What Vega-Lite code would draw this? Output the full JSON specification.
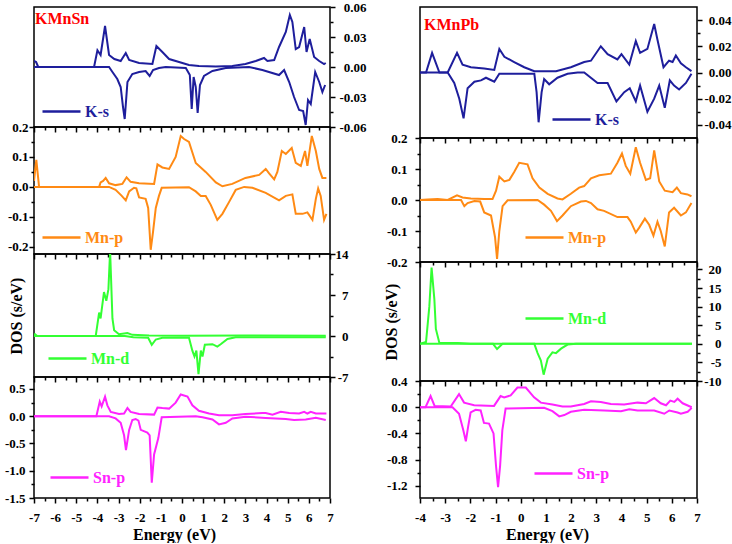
{
  "$schema": "https://vega.github.io/schema/vega-lite/v6.json",
  "background": "white",
  "padding": {"left": 3, "top": 0, "right": 0, "bottom": 0},
  "config": {
    "view": {"stroke": "#000000", "strokeWidth": 1.5},
    "axis": {
      "labelFont": "Liberation Serif", "labelFontWeight": "bold", "labelFontSize": 13, "labelColor": "#000000",
      "titleFont": "Liberation Serif", "titleFontWeight": "bold", "titleFontSize": 16, "titleColor": "#000000",
      "tickColor": "#000000", "tickWidth": 1.5, "domain": false, "grid": false,
      "labelOverlap": false, "labelFlush": false
    },
    "legend": {
      "title": null, "orient": "none", "symbolType": "stroke", "symbolSize": 1444, "symbolStrokeWidth": 2.5,
      "labelFont": "Liberation Serif", "labelFontWeight": "bold", "labelFontSize": 16, "labelOffset": 3, "padding": 0
    }
  },
  "datasets": {
    "SnKu": [{"e":-7,"v":0.006},{"e":-6.9,"v":0.005},{"e":-6.8,"v":0},{"e":-4.16,"v":0},{"e":-4.0,"v":0.0167},{"e":-3.85,"v":0.012},{"e":-3.64,"v":0.041},{"e":-3.45,"v":0.012},{"e":-3.2,"v":0.008},{"e":-2.9,"v":0.006},{"e":-2.66,"v":0.014},{"e":-2.5,"v":0.007},{"e":-2.03,"v":0.004},{"e":-1.4,"v":0.003},{"e":-1.21,"v":0.021},{"e":-0.93,"v":0.015},{"e":-0.61,"v":0.008},{"e":-0.14,"v":0.005},{"e":0.33,"v":0.002},{"e":0.8,"v":0.001},{"e":1.6,"v":0.0005},{"e":2.38,"v":0.001},{"e":3.0,"v":0.003},{"e":3.49,"v":0.006},{"e":3.88,"v":0.009},{"e":4.04,"v":0.006},{"e":4.36,"v":0.007},{"e":4.59,"v":0.02},{"e":4.91,"v":0.035},{"e":5.1,"v":0.052},{"e":5.22,"v":0.045},{"e":5.38,"v":0.018},{"e":5.54,"v":0.02},{"e":5.78,"v":0.04},{"e":5.89,"v":0.015},{"e":6.04,"v":0.028},{"e":6.25,"v":0.01},{"e":6.49,"v":0.006},{"e":6.72,"v":0.003},{"e":6.8,"v":0.004}],
    "SnKd": [{"e":-7,"v":0},{"e":-3.45,"v":0},{"e":-3.29,"v":-0.005},{"e":-3.06,"v":-0.012},{"e":-2.9,"v":-0.02},{"e":-2.79,"v":-0.04},{"e":-2.71,"v":-0.052},{"e":-2.58,"v":-0.015},{"e":-2.35,"v":-0.007},{"e":-2.03,"v":-0.005},{"e":-1.72,"v":-0.004},{"e":-1.53,"v":-0.009},{"e":-1.37,"v":-0.003},{"e":-1.09,"v":-0.001},{"e":-0.77,"v":0},{"e":0.18,"v":-0.001},{"e":0.37,"v":-0.008},{"e":0.46,"v":-0.042},{"e":0.55,"v":-0.01},{"e":0.65,"v":-0.02},{"e":0.74,"v":-0.046},{"e":0.85,"v":-0.018},{"e":1.04,"v":-0.009},{"e":1.44,"v":-0.004},{"e":2.07,"v":-0.001},{"e":3.17,"v":0},{"e":3.8,"v":-0.003},{"e":4.59,"v":-0.008},{"e":4.83,"v":-0.003},{"e":5.07,"v":-0.015},{"e":5.3,"v":-0.03},{"e":5.54,"v":-0.043},{"e":5.73,"v":-0.044},{"e":5.85,"v":-0.058},{"e":5.96,"v":-0.033},{"e":6.09,"v":-0.037},{"e":6.3,"v":-0.005},{"e":6.49,"v":-0.015},{"e":6.64,"v":-0.025},{"e":6.77,"v":-0.018}],
    "SnPu": [{"e":-7,"v":0.02},{"e":-6.89,"v":0.09},{"e":-6.76,"v":0},{"e":-3.92,"v":0},{"e":-3.85,"v":0.015},{"e":-3.73,"v":0.02},{"e":-3.61,"v":0.03},{"e":-3.45,"v":0.012},{"e":-3.14,"v":0.006},{"e":-2.82,"v":0.01},{"e":-2.62,"v":0.032},{"e":-2.43,"v":0.017},{"e":-2.03,"v":0.012},{"e":-1.32,"v":0.01},{"e":-1.16,"v":0.075},{"e":-0.93,"v":0.065},{"e":-0.61,"v":0.06},{"e":-0.3,"v":0.1},{"e":-0.06,"v":0.17},{"e":0.1,"v":0.16},{"e":0.33,"v":0.15},{"e":0.65,"v":0.08},{"e":1.12,"v":0.05},{"e":1.6,"v":0.015},{"e":1.91,"v":0.002},{"e":2.38,"v":0.01},{"e":3.0,"v":0.03},{"e":3.65,"v":0.04},{"e":3.96,"v":0.06},{"e":4.12,"v":0.045},{"e":4.36,"v":0.025},{"e":4.51,"v":0.05},{"e":4.72,"v":0.12},{"e":4.91,"v":0.11},{"e":5.19,"v":0.13},{"e":5.38,"v":0.08},{"e":5.62,"v":0.07},{"e":5.82,"v":0.12},{"e":5.93,"v":0.07},{"e":6.14,"v":0.17},{"e":6.33,"v":0.12},{"e":6.49,"v":0.06},{"e":6.64,"v":0.03},{"e":6.83,"v":0.03}],
    "SnPd": [{"e":-7,"v":0},{"e":-3.45,"v":0},{"e":-3.14,"v":-0.01},{"e":-2.85,"v":-0.03},{"e":-2.66,"v":-0.045},{"e":-2.5,"v":-0.015},{"e":-2.27,"v":-0.003},{"e":-2.16,"v":-0.005},{"e":-2.03,"v":-0.035},{"e":-1.72,"v":-0.04},{"e":-1.6,"v":-0.07},{"e":-1.48,"v":-0.21},{"e":-1.37,"v":-0.15},{"e":-1.24,"v":-0.07},{"e":-1.09,"v":-0.03},{"e":-0.96,"v":-0.003},{"e":0.33,"v":-0.001},{"e":0.65,"v":-0.015},{"e":0.89,"v":-0.03},{"e":1.12,"v":-0.03},{"e":1.36,"v":-0.06},{"e":1.67,"v":-0.11},{"e":1.91,"v":-0.09},{"e":2.23,"v":-0.05},{"e":2.54,"v":-0.01},{"e":2.94,"v":0},{"e":3.33,"v":-0.003},{"e":3.96,"v":-0.02},{"e":4.59,"v":-0.045},{"e":4.91,"v":-0.03},{"e":5.22,"v":-0.025},{"e":5.38,"v":-0.09},{"e":5.7,"v":-0.09},{"e":5.93,"v":-0.085},{"e":6.17,"v":-0.11},{"e":6.33,"v":-0.04},{"e":6.44,"v":-0.005},{"e":6.56,"v":-0.03},{"e":6.72,"v":-0.11},{"e":6.83,"v":-0.09}],
    "SnDu": [{"e":-7,"v":0},{"e":-6.95,"v":0.3},{"e":-6.85,"v":0},{"e":-4.08,"v":0},{"e":-3.92,"v":4},{"e":-3.85,"v":3},{"e":-3.69,"v":7.5},{"e":-3.58,"v":6},{"e":-3.48,"v":8},{"e":-3.4,"v":14.5},{"e":-3.29,"v":3},{"e":-3.21,"v":1},{"e":-2.98,"v":0.3},{"e":-2.58,"v":0.5},{"e":-2.35,"v":0.2},{"e":-1.56,"v":0.1},{"e":0,"v":0.05},{"e":3,"v":0.1},{"e":6.8,"v":0.05}],
    "SnDd": [{"e":-7,"v":0},{"e":-2.7,"v":0},{"e":-2.3,"v":-0.2},{"e":-1.6,"v":-0.3},{"e":-1.43,"v":-1.5},{"e":-1.24,"v":-0.6},{"e":-0.93,"v":-0.3},{"e":0.33,"v":-0.3},{"e":0.49,"v":-2.5},{"e":0.59,"v":-3.5},{"e":0.68,"v":-2.5},{"e":0.78,"v":-6.5},{"e":0.89,"v":-2.5},{"e":0.97,"v":-3.5},{"e":1.08,"v":-1.5},{"e":1.44,"v":-1.4},{"e":1.67,"v":-1.8},{"e":1.83,"v":-1.4},{"e":2.15,"v":-0.5},{"e":2.54,"v":-0.2},{"e":6.8,"v":-0.2}],
    "SnSu": [{"e":-7,"v":0},{"e":-4.05,"v":0},{"e":-3.89,"v":0.27},{"e":-3.8,"v":0.18},{"e":-3.64,"v":0.36},{"e":-3.53,"v":0.2},{"e":-3.37,"v":0.08},{"e":-2.98,"v":0.04},{"e":-2.74,"v":0.05},{"e":-2.58,"v":0.15},{"e":-2.43,"v":0.08},{"e":-2.03,"v":0.04},{"e":-1.32,"v":0.03},{"e":-1.16,"v":0.16},{"e":-0.93,"v":0.15},{"e":-0.61,"v":0.14},{"e":-0.3,"v":0.25},{"e":-0.06,"v":0.4},{"e":0.26,"v":0.36},{"e":0.49,"v":0.2},{"e":0.8,"v":0.1},{"e":1.28,"v":0.05},{"e":1.75,"v":0.02},{"e":2.38,"v":0.02},{"e":3.0,"v":0.04},{"e":3.8,"v":0.06},{"e":3.96,"v":0.06},{"e":4.28,"v":0.03},{"e":4.67,"v":0.08},{"e":5.07,"v":0.06},{"e":5.54,"v":0.05},{"e":5.78,"v":0.08},{"e":5.93,"v":0.05},{"e":6.09,"v":0.08},{"e":6.33,"v":0.05},{"e":6.83,"v":0.05}],
    "SnSd": [{"e":-7,"v":0},{"e":-3.45,"v":0},{"e":-3.14,"v":-0.04},{"e":-2.9,"v":-0.12},{"e":-2.74,"v":-0.35},{"e":-2.65,"v":-0.62},{"e":-2.5,"v":-0.25},{"e":-2.35,"v":-0.07},{"e":-2.19,"v":-0.05},{"e":-2.06,"v":-0.08},{"e":-1.95,"v":-0.25},{"e":-1.64,"v":-0.3},{"e":-1.53,"v":-0.35},{"e":-1.43,"v":-1.22},{"e":-1.32,"v":-0.7},{"e":-1.12,"v":-0.4},{"e":-0.96,"v":-0.02},{"e":0.65,"v":0},{"e":0.97,"v":-0.02},{"e":1.44,"v":-0.06},{"e":1.75,"v":-0.15},{"e":2.07,"v":-0.12},{"e":2.38,"v":-0.04},{"e":3.0,"v":-0.01},{"e":3.96,"v":-0.03},{"e":4.91,"v":-0.05},{"e":5.3,"v":-0.07},{"e":5.85,"v":-0.06},{"e":6.33,"v":-0.03},{"e":6.8,"v":-0.07}],
    "PbKu": [{"e":-4,"v":0},{"e":-3.76,"v":0},{"e":-3.52,"v":0.015},{"e":-3.23,"v":0},{"e":-2.9,"v":0},{"e":-2.53,"v":0.015},{"e":-2.31,"v":0.006},{"e":-1.98,"v":0.004},{"e":-1.45,"v":0.003},{"e":-1.05,"v":0.002},{"e":-0.85,"v":0.018},{"e":-0.65,"v":0.012},{"e":-0.26,"v":0.008},{"e":0.14,"v":0.004},{"e":0.54,"v":0.001},{"e":1.4,"v":0.001},{"e":1.99,"v":0.004},{"e":2.52,"v":0.008},{"e":2.79,"v":0.009},{"e":3.18,"v":0.02},{"e":3.45,"v":0.014},{"e":3.84,"v":0.01},{"e":4.0,"v":0.014},{"e":4.31,"v":0.006},{"e":4.57,"v":0.024},{"e":4.74,"v":0.015},{"e":5.03,"v":0.018},{"e":5.3,"v":0.037},{"e":5.43,"v":0.025},{"e":5.67,"v":0.004},{"e":5.89,"v":0.009},{"e":6.03,"v":0.008},{"e":6.16,"v":0.013},{"e":6.36,"v":0.007},{"e":6.56,"v":0.004},{"e":6.78,"v":0.001}],
    "PbKd": [{"e":-4,"v":0},{"e":-2.9,"v":0},{"e":-2.64,"v":-0.008},{"e":-2.44,"v":-0.02},{"e":-2.27,"v":-0.035},{"e":-2.11,"v":-0.012},{"e":-1.84,"v":-0.007},{"e":-1.58,"v":-0.006},{"e":-1.38,"v":-0.004},{"e":-1.05,"v":-0.007},{"e":-0.85,"v":-0.001},{"e":0.54,"v":-0.001},{"e":0.63,"v":-0.015},{"e":0.71,"v":-0.038},{"e":0.83,"v":-0.015},{"e":0.93,"v":-0.005},{"e":1.13,"v":-0.009},{"e":1.46,"v":-0.004},{"e":1.86,"v":-0.001},{"e":2.26,"v":0},{"e":2.52,"v":0},{"e":3.05,"v":-0.008},{"e":3.45,"v":-0.008},{"e":3.8,"v":-0.022},{"e":4.11,"v":-0.015},{"e":4.33,"v":-0.012},{"e":4.57,"v":-0.022},{"e":4.74,"v":-0.01},{"e":5.03,"v":-0.03},{"e":5.3,"v":-0.02},{"e":5.5,"v":-0.01},{"e":5.72,"v":-0.027},{"e":5.92,"v":-0.006},{"e":6.09,"v":-0.01},{"e":6.29,"v":-0.013},{"e":6.56,"v":-0.008},{"e":6.78,"v":-0.001}],
    "PbPu": [{"e":-4,"v":0},{"e":-3.7,"v":0.002},{"e":-3.3,"v":0.003},{"e":-2.9,"v":0},{"e":-2.53,"v":0.015},{"e":-2.31,"v":0.008},{"e":-1.98,"v":0.005},{"e":-1.45,"v":0.003},{"e":-1.12,"v":0.003},{"e":-0.98,"v":0.03},{"e":-0.85,"v":0.075},{"e":-0.65,"v":0.06},{"e":-0.45,"v":0.065},{"e":-0.26,"v":0.09},{"e":-0.06,"v":0.12},{"e":0.27,"v":0.115},{"e":0.47,"v":0.07},{"e":0.74,"v":0.04},{"e":1.07,"v":0.02},{"e":1.46,"v":0.005},{"e":1.66,"v":0.002},{"e":1.99,"v":0.02},{"e":2.32,"v":0.04},{"e":2.52,"v":0.045},{"e":2.79,"v":0.07},{"e":3.12,"v":0.08},{"e":3.58,"v":0.085},{"e":3.84,"v":0.12},{"e":4.02,"v":0.15},{"e":4.17,"v":0.11},{"e":4.35,"v":0.085},{"e":4.57,"v":0.17},{"e":4.74,"v":0.12},{"e":4.97,"v":0.065},{"e":5.14,"v":0.07},{"e":5.3,"v":0.16},{"e":5.5,"v":0.06},{"e":5.72,"v":0.03},{"e":6.03,"v":0.025},{"e":6.2,"v":0.04},{"e":6.36,"v":0.022},{"e":6.62,"v":0.018},{"e":6.78,"v":0.012}],
    "PbPd": [{"e":-4,"v":0},{"e":-2.37,"v":0},{"e":-2.24,"v":-0.02},{"e":-2.11,"v":-0.01},{"e":-1.84,"v":-0.003},{"e":-1.61,"v":-0.005},{"e":-1.45,"v":-0.04},{"e":-1.18,"v":-0.05},{"e":-1.02,"v":-0.12},{"e":-0.94,"v":-0.19},{"e":-0.85,"v":-0.1},{"e":-0.72,"v":-0.02},{"e":-0.52,"v":-0.001},{"e":0.67,"v":0},{"e":0.93,"v":-0.015},{"e":1.2,"v":-0.035},{"e":1.44,"v":-0.068},{"e":1.66,"v":-0.05},{"e":1.99,"v":-0.02},{"e":2.39,"v":-0.005},{"e":2.59,"v":-0.003},{"e":2.79,"v":-0.01},{"e":3.05,"v":-0.03},{"e":3.31,"v":-0.035},{"e":3.84,"v":-0.055},{"e":4.24,"v":-0.055},{"e":4.37,"v":-0.07},{"e":4.57,"v":-0.105},{"e":4.7,"v":-0.09},{"e":4.93,"v":-0.06},{"e":5.1,"v":-0.08},{"e":5.27,"v":-0.115},{"e":5.43,"v":-0.07},{"e":5.56,"v":-0.1},{"e":5.72,"v":-0.15},{"e":5.89,"v":-0.04},{"e":6.09,"v":-0.025},{"e":6.36,"v":-0.05},{"e":6.56,"v":-0.04},{"e":6.78,"v":-0.01}],
    "PbDu": [{"e":-4,"v":0},{"e":-3.76,"v":0.5},{"e":-3.63,"v":10},{"e":-3.54,"v":20.5},{"e":-3.43,"v":12},{"e":-3.37,"v":4},{"e":-3.23,"v":0.2},{"e":-2.5,"v":0.2},{"e":-2,"v":0},{"e":6.8,"v":0}],
    "PbDd": [{"e":-4,"v":0},{"e":-1.1,"v":0},{"e":-0.94,"v":-1.4},{"e":-0.72,"v":0},{"e":0.54,"v":0},{"e":0.67,"v":-2.5},{"e":0.8,"v":-4.5},{"e":0.91,"v":-8.3},{"e":1.07,"v":-4},{"e":1.26,"v":-2.3},{"e":1.4,"v":-2.5},{"e":1.6,"v":-1.3},{"e":1.86,"v":-0.2},{"e":2.2,"v":0},{"e":6.8,"v":0}],
    "PbSu": [{"e":-4,"v":0},{"e":-3.78,"v":0},{"e":-3.58,"v":0.17},{"e":-3.42,"v":0.02},{"e":-2.78,"v":0.01},{"e":-2.45,"v":0.2},{"e":-2.25,"v":0.07},{"e":-1.85,"v":0.03},{"e":-1.06,"v":0.02},{"e":-0.8,"v":0.17},{"e":-0.66,"v":0.15},{"e":-0.4,"v":0.18},{"e":-0.13,"v":0.3},{"e":0.2,"v":0.3},{"e":0.53,"v":0.15},{"e":0.8,"v":0.07},{"e":1.26,"v":0.04},{"e":1.66,"v":0.01},{"e":1.99,"v":0.01},{"e":2.52,"v":0.05},{"e":2.79,"v":0.09},{"e":3.18,"v":0.08},{"e":3.58,"v":0.05},{"e":4.11,"v":0.04},{"e":4.64,"v":0.07},{"e":4.97,"v":0.06},{"e":5.3,"v":0.14},{"e":5.56,"v":0.06},{"e":5.77,"v":0.03},{"e":5.94,"v":0.1},{"e":6.1,"v":0.08},{"e":6.23,"v":0.13},{"e":6.43,"v":0.06},{"e":6.79,"v":0.0}],
    "PbSd": [{"e":-4,"v":0},{"e":-2.71,"v":0},{"e":-2.45,"v":-0.1},{"e":-2.28,"v":-0.35},{"e":-2.18,"v":-0.52},{"e":-2.09,"v":-0.3},{"e":-1.99,"v":-0.08},{"e":-1.79,"v":-0.04},{"e":-1.59,"v":-0.05},{"e":-1.46,"v":-0.24},{"e":-1.26,"v":-0.25},{"e":-1.08,"v":-0.4},{"e":-0.98,"v":-0.9},{"e":-0.9,"v":-1.22},{"e":-0.82,"v":-0.9},{"e":-0.73,"v":-0.35},{"e":-0.6,"v":-0.02},{"e":0.93,"v":-0.01},{"e":1.26,"v":-0.06},{"e":1.53,"v":-0.14},{"e":1.73,"v":-0.12},{"e":1.99,"v":-0.07},{"e":2.52,"v":-0.04},{"e":3.32,"v":-0.05},{"e":3.98,"v":-0.06},{"e":4.31,"v":-0.03},{"e":4.64,"v":-0.05},{"e":5.3,"v":-0.05},{"e":5.7,"v":-0.1},{"e":5.9,"v":-0.05},{"e":6.23,"v":-0.08},{"e":6.36,"v":-0.1},{"e":6.63,"v":-0.07},{"e":6.79,"v":-0.01}]
  },
  "hconcat": [
    {
      "spacing": 0,
      "bounds": "flush",
      "resolve": {"scale": {"color": "independent"}, "legend": {"color": "independent"}},
      "vconcat": [
        {
          "width": 296, "height": 120,
          "title": {"text": "KMnSn", "anchor": "start", "frame": "group", "offset": -26, "dx": 1, "color": "#FF0000", "font": "Liberation Serif", "fontSize": 16, "fontWeight": "bold"},
          "layer": [
            {"data": {"name": "SnKu"}, "mark": {"type": "line", "strokeWidth": 2, "clip": true},
             "encoding": {
               "x": {"field": "e", "type": "quantitative", "scale": {"domain": [-7, 7], "nice": false, "zero": false}, "axis": {"orient": "bottom", "values": [-7,-6,-5,-4,-3,-2,-1,0,1,2,3,4,5,6,7], "tickSize": 5, "labels": false, "title": null}},
               "y": {"field": "v", "type": "quantitative", "scale": {"domain": [-0.06, 0.06], "nice": false, "zero": false}, "axis": {"orient": "right", "values": [-0.06,-0.03,0,0.03,0.06], "tickSize": 5, "labelAlign": "right", "labelPadding": 31, "labelExpr": "replace(format(datum.value,'.2f'),'\u2212','-')", "title": null}},
               "color": {"datum": "K-s", "scale": {"range": ["#1E1E9C"]}, "legend": {"legendX": 7, "legendY": 84, "labelColor": "#1E1E9C"}}
             }},
            {"data": {"name": "SnKd"}, "mark": {"type": "line", "strokeWidth": 2, "clip": true},
             "encoding": {
               "x": {"field": "e", "type": "quantitative", "axis": {"orient": "bottom", "values": [-6.5,-5.5,-4.5,-3.5,-2.5,-1.5,-0.5,0.5,1.5,2.5,3.5,4.5,5.5,6.5], "tickSize": 3, "labels": false, "title": null}},
               "y": {"field": "v", "type": "quantitative", "axis": {"orient": "right", "values": [-0.045,-0.015,0.015,0.045], "tickSize": 3, "labels": false, "title": null}},
               "color": {"datum": "K-s"}
             }}
          ],
          "resolve": {"axis": {"x": "independent", "y": "independent"}}
        },
        {
          "width": 296, "height": 127,
          "layer": [
            {"data": {"name": "SnPu"}, "mark": {"type": "line", "strokeWidth": 2, "clip": true},
             "encoding": {
               "x": {"field": "e", "type": "quantitative", "scale": {"domain": [-7, 7], "nice": false, "zero": false}, "axis": {"orient": "bottom", "values": [-7,-6,-5,-4,-3,-2,-1,0,1,2,3,4,5,6,7], "tickSize": 5, "labels": false, "title": null}},
               "y": {"field": "v", "type": "quantitative", "scale": {"domain": [-0.224, 0.2], "nice": false, "zero": false}, "axis": {"orient": "left", "values": [-0.2,-0.1,0,0.1,0.2], "tickSize": 5, "labelPadding": 1, "labelExpr": "replace(format(datum.value,'.1f'),'\u2212','-')", "title": null}},
               "color": {"datum": "Mn-p", "scale": {"range": ["#FF8A14"]}, "legend": {"legendX": 7, "legendY": 90, "labelColor": "#FF8A14"}}
             }},
            {"data": {"name": "SnPd"}, "mark": {"type": "line", "strokeWidth": 2, "clip": true},
             "encoding": {
               "x": {"field": "e", "type": "quantitative", "axis": {"orient": "bottom", "values": [-6.5,-5.5,-4.5,-3.5,-2.5,-1.5,-0.5,0.5,1.5,2.5,3.5,4.5,5.5,6.5], "tickSize": 3, "labels": false, "title": null}},
               "y": {"field": "v", "type": "quantitative", "axis": {"orient": "left", "values": [-0.15,-0.05,0.05,0.15], "tickSize": 3, "labels": false, "title": null}},
               "color": {"datum": "Mn-p"}
             }}
          ],
          "resolve": {"axis": {"x": "independent", "y": "independent"}}
        },
        {
          "width": 296, "height": 123,
          "layer": [
            {"data": {"name": "SnDu"}, "mark": {"type": "line", "strokeWidth": 2, "clip": true},
             "encoding": {
               "x": {"field": "e", "type": "quantitative", "scale": {"domain": [-7, 7], "nice": false, "zero": false}, "axis": {"orient": "bottom", "values": [-7,-6,-5,-4,-3,-2,-1,0,1,2,3,4,5,6,7], "tickSize": 5, "labels": false, "title": null}},
               "y": {"field": "v", "type": "quantitative", "scale": {"domain": [-7, 14], "nice": false, "zero": false}, "axis": {"orient": "right", "values": [-7,0,7,14], "tickSize": 5, "labelAlign": "right", "labelPadding": 13, "labelExpr": "replace(format(datum.value,'d'),'\u2212','-')", "title": null}},
               "color": {"datum": "Mn-d", "scale": {"range": ["#33FF33"]}, "legend": {"legendX": 13, "legendY": 84, "labelColor": "#33FF33"}}
             }},
            {"data": {"name": "SnDd"}, "mark": {"type": "line", "strokeWidth": 2, "clip": true},
             "encoding": {
               "x": {"field": "e", "type": "quantitative", "axis": {"orient": "bottom", "values": [-6.5,-5.5,-4.5,-3.5,-2.5,-1.5,-0.5,0.5,1.5,2.5,3.5,4.5,5.5,6.5], "tickSize": 3, "labels": false, "title": null}},
               "y": {"field": "v", "type": "quantitative", "axis": {"orient": "right", "values": [-3.5,3.5,10.5], "tickSize": 3, "labels": false, "title": null}},
               "color": {"datum": "Mn-d"}
             }},
            {"data": {"name": "SnDu"}, "mark": {"type": "line", "opacity": 0},
             "encoding": {
               "x": {"field": "e", "type": "quantitative", "axis": null},
               "y": {"field": "v", "type": "quantitative", "axis": {"orient": "left", "labels": false, "ticks": false, "title": "DOS (s/eV)", "titlePadding": 10}}
             }}
          ],
          "resolve": {"axis": {"x": "independent", "y": "independent"}}
        },
        {
          "width": 296, "height": 121,
          "layer": [
            {"data": {"name": "SnSu"}, "mark": {"type": "line", "strokeWidth": 2, "clip": true},
             "encoding": {
               "x": {"field": "e", "type": "quantitative", "scale": {"domain": [-7, 7], "nice": false, "zero": false}, "axis": {"orient": "bottom", "values": [-7,-6,-5,-4,-3,-2,-1,0,1,2,3,4,5,6,7], "tickSize": 5, "labelPadding": 8, "labelExpr": "replace(format(datum.value,'d'),'\u2212','-')", "title": "Energy (eV)", "titlePadding": 2, "titleX": 140}},
               "y": {"field": "v", "type": "quantitative", "scale": {"domain": [-1.5, 0.72], "nice": false, "zero": false}, "axis": {"orient": "left", "values": [-1.5,-1,-0.5,0,0.5], "tickSize": 5, "labelPadding": 4, "labelExpr": "replace(format(datum.value,'.1f'),'\u2212','-')", "title": null}},
               "color": {"datum": "Sn-p", "scale": {"range": ["#FF22FF"]}, "legend": {"legendX": 15, "legendY": 80, "labelColor": "#FF22FF"}}
             }},
            {"data": {"name": "SnSd"}, "mark": {"type": "line", "strokeWidth": 2, "clip": true},
             "encoding": {
               "x": {"field": "e", "type": "quantitative", "axis": {"orient": "bottom", "values": [-6.5,-5.5,-4.5,-3.5,-2.5,-1.5,-0.5,0.5,1.5,2.5,3.5,4.5,5.5,6.5], "tickSize": 3, "labels": false, "title": null}},
               "y": {"field": "v", "type": "quantitative", "axis": {"orient": "left", "values": [-1.25,-0.75,-0.25,0.25], "tickSize": 3, "labels": false, "title": null}},
               "color": {"datum": "Sn-p"}
             }}
          ],
          "resolve": {"axis": {"x": "independent", "y": "independent"}}
        }
      ]
    },
    {
      "spacing": 0,
      "bounds": "flush",
      "resolve": {"scale": {"color": "independent"}, "legend": {"color": "independent"}},
      "vconcat": [
        {
          "width": 277, "height": 131,
          "title": {"text": "KMnPb", "anchor": "start", "frame": "group", "offset": -26, "dx": 4, "color": "#FF0000", "font": "Liberation Serif", "fontSize": 16, "fontWeight": "bold"},
          "layer": [
            {"data": {"name": "PbKu"}, "mark": {"type": "line", "strokeWidth": 2, "clip": true},
             "encoding": {
               "x": {"field": "e", "type": "quantitative", "scale": {"domain": [-4, 7], "nice": false, "zero": false}, "axis": {"orient": "bottom", "values": [-4,-3,-2,-1,0,1,2,3,4,5,6,7], "tickSize": 5, "labels": false, "title": null}},
               "y": {"field": "v", "type": "quantitative", "scale": {"domain": [-0.05, 0.05], "nice": false, "zero": false}, "axis": {"orient": "right", "values": [-0.04,-0.02,0,0.02,0.04], "tickSize": 5, "labelAlign": "right", "labelPadding": 29, "labelExpr": "replace(format(datum.value,'.2f'),'\u2212','-')", "title": null}},
               "color": {"datum": "K-s", "scale": {"range": ["#1E1E9C"]}, "legend": {"legendX": 131, "legendY": 92, "labelColor": "#1E1E9C"}}
             }},
            {"data": {"name": "PbKd"}, "mark": {"type": "line", "strokeWidth": 2, "clip": true},
             "encoding": {
               "x": {"field": "e", "type": "quantitative", "axis": {"orient": "bottom", "values": [-3.5,-2.5,-1.5,-0.5,0.5,1.5,2.5,3.5,4.5,5.5,6.5], "tickSize": 3, "labels": false, "title": null}},
               "y": {"field": "v", "type": "quantitative", "axis": {"orient": "right", "values": [-0.03,-0.01,0.01,0.03], "tickSize": 3, "labels": false, "title": null}},
               "color": {"datum": "K-s"}
             }}
          ],
          "resolve": {"axis": {"x": "independent", "y": "independent"}}
        },
        {
          "width": 277, "height": 124,
          "layer": [
            {"data": {"name": "PbPu"}, "mark": {"type": "line", "strokeWidth": 2, "clip": true},
             "encoding": {
               "x": {"field": "e", "type": "quantitative", "scale": {"domain": [-4, 7], "nice": false, "zero": false}, "axis": {"orient": "bottom", "values": [-4,-3,-2,-1,0,1,2,3,4,5,6,7], "tickSize": 5, "labels": false, "title": null}},
               "y": {"field": "v", "type": "quantitative", "scale": {"domain": [-0.2, 0.2], "nice": false, "zero": false}, "axis": {"orient": "left", "values": [-0.2,-0.1,0,0.1,0.2], "tickSize": 5, "labelPadding": 8, "labelExpr": "replace(format(datum.value,'.1f'),'\u2212','-')", "title": null}},
               "color": {"datum": "Mn-p", "scale": {"range": ["#FF8A14"]}, "legend": {"legendX": 104, "legendY": 79, "labelColor": "#FF8A14"}}
             }},
            {"data": {"name": "PbPd"}, "mark": {"type": "line", "strokeWidth": 2, "clip": true},
             "encoding": {
               "x": {"field": "e", "type": "quantitative", "axis": {"orient": "bottom", "values": [-3.5,-2.5,-1.5,-0.5,0.5,1.5,2.5,3.5,4.5,5.5,6.5], "tickSize": 3, "labels": false, "title": null}},
               "y": {"field": "v", "type": "quantitative", "axis": {"orient": "left", "values": [-0.15,-0.05,0.05,0.15], "tickSize": 3, "labels": false, "title": null}},
               "color": {"datum": "Mn-p"}
             }}
          ],
          "resolve": {"axis": {"x": "independent", "y": "independent"}}
        },
        {
          "width": 277, "height": 119,
          "layer": [
            {"data": {"name": "PbDu"}, "mark": {"type": "line", "strokeWidth": 2, "clip": true},
             "encoding": {
               "x": {"field": "e", "type": "quantitative", "scale": {"domain": [-4, 7], "nice": false, "zero": false}, "axis": {"orient": "bottom", "values": [-4,-3,-2,-1,0,1,2,3,4,5,6,7], "tickSize": 5, "labels": false, "title": null}},
               "y": {"field": "v", "type": "quantitative", "scale": {"domain": [-10, 22], "nice": false, "zero": false}, "axis": {"orient": "right", "values": [-10,-5,0,5,10,15,20], "tickSize": 5, "labelAlign": "right", "labelPadding": 19, "labelExpr": "replace(format(datum.value,'d'),'\u2212','-')", "title": null}},
               "color": {"datum": "Mn-d", "scale": {"range": ["#33FF33"]}, "legend": {"legendX": 104, "legendY": 36, "labelColor": "#33FF33"}}
             }},
            {"data": {"name": "PbDd"}, "mark": {"type": "line", "strokeWidth": 2, "clip": true},
             "encoding": {
               "x": {"field": "e", "type": "quantitative", "axis": {"orient": "bottom", "values": [-3.5,-2.5,-1.5,-0.5,0.5,1.5,2.5,3.5,4.5,5.5,6.5], "tickSize": 3, "labels": false, "title": null}},
               "y": {"field": "v", "type": "quantitative", "axis": {"orient": "right", "values": [-7.5,-2.5,2.5,7.5,12.5,17.5], "tickSize": 3, "labels": false, "title": null}},
               "color": {"datum": "Mn-d"}
             }},
            {"data": {"name": "PbDu"}, "mark": {"type": "line", "opacity": 0},
             "encoding": {
               "x": {"field": "e", "type": "quantitative", "axis": null},
               "y": {"field": "v", "type": "quantitative", "axis": {"orient": "left", "labels": false, "ticks": false, "title": "DOS (s/eV)", "titlePadding": 21}}
             }}
          ],
          "resolve": {"axis": {"x": "independent", "y": "independent"}}
        },
        {
          "width": 277, "height": 117,
          "layer": [
            {"data": {"name": "PbSu"}, "mark": {"type": "line", "strokeWidth": 2, "clip": true},
             "encoding": {
               "x": {"field": "e", "type": "quantitative", "scale": {"domain": [-4, 7], "nice": false, "zero": false}, "axis": {"orient": "bottom", "values": [-4,-3,-2,-1,0,1,2,3,4,5,6,7], "tickSize": 5, "labelPadding": 8, "labelExpr": "replace(format(datum.value,'d'),'\u2212','-')", "title": "Energy (eV)", "titlePadding": 2, "titleX": 127}},
               "y": {"field": "v", "type": "quantitative", "scale": {"domain": [-1.385, 0.4], "nice": false, "zero": false}, "axis": {"orient": "left", "values": [-1.2,-0.8,-0.4,0,0.4], "tickSize": 5, "labelPadding": 8, "labelExpr": "replace(format(datum.value,'.1f'),'\u2212','-')", "title": null}},
               "color": {"datum": "Sn-p", "scale": {"range": ["#FF22FF"]}, "legend": {"legendX": 113, "legendY": 72, "labelColor": "#FF22FF"}}
             }},
            {"data": {"name": "PbSd"}, "mark": {"type": "line", "strokeWidth": 2, "clip": true},
             "encoding": {
               "x": {"field": "e", "type": "quantitative", "axis": {"orient": "bottom", "values": [-3.5,-2.5,-1.5,-0.5,0.5,1.5,2.5,3.5,4.5,5.5,6.5], "tickSize": 3, "labels": false, "title": null}},
               "y": {"field": "v", "type": "quantitative", "axis": {"orient": "left", "values": [-1.0,-0.6,-0.2,0.2], "tickSize": 3, "labels": false, "title": null}},
               "color": {"datum": "Sn-p"}
             }}
          ],
          "resolve": {"axis": {"x": "independent", "y": "independent"}}
        }
      ]
    }
  ],
  "spacing": 15,
  "bounds": "full",
  "resolve": {"scale": {"color": "independent"}, "legend": {"color": "independent"}}
}
